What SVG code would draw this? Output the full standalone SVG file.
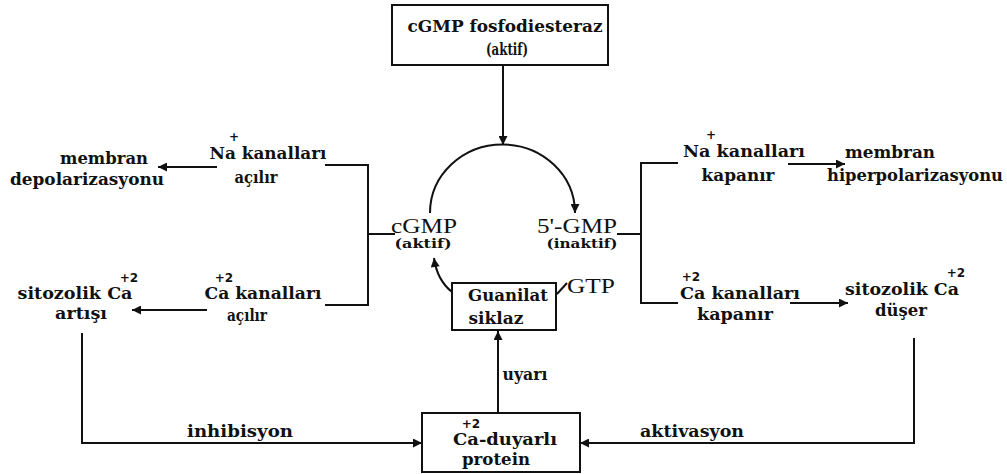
<svg xmlns="http://www.w3.org/2000/svg" width="1007" height="474" viewBox="0 0 1007 474">
<style>
.t{font-family:"DejaVu Serif","Liberation Serif",serif;font-weight:bold;font-size:16.5px;fill:#111}
.sup{font-family:"DejaVu Sans","Liberation Sans",sans-serif;font-weight:bold;font-size:12px;fill:#111}
.big{font-family:"Liberation Serif","Times New Roman",serif;font-size:21px;fill:#111}
.sm{font-family:"DejaVu Serif","Liberation Serif",serif;font-weight:bold;font-size:13px;fill:#111}
.box{fill:#fff;stroke:#111;stroke-width:2}
.ln{fill:none;stroke:#111;stroke-width:2}
</style>
<defs>
<marker id="ah" viewBox="0 0 10 10" refX="10" refY="5" markerWidth="11" markerHeight="9" markerUnits="userSpaceOnUse" orient="auto">
<path d="M0,0 L10,5 L0,10 z" fill="#111"/>
</marker>
</defs>
<rect width="1007" height="474" fill="#fff"/>
<g id="connectors">
<path class="ln" d="M503,65 V145" marker-end="url(#ah)"/>
<path class="ln" d="M430,213 A72,68 0 0 1 575,213" marker-end="url(#ah)"/>
<path class="ln" d="M452,292 Q437,280 434,258" marker-end="url(#ah)"/>
<path class="ln" d="M498,413 V331" marker-end="url(#ah)"/>
<path class="ln" d="M557,294 L567,283"/>
<path class="ln" d="M325,165 H368 V305 H325 M368,234 H395"/>
<path class="ln" d="M217,167 H158" marker-end="url(#ah)"/>
<path class="ln" d="M207,310 H132" marker-end="url(#ah)"/>
<path class="ln" d="M678,163 H641 V303 H678 M617,234 H641"/>
<path class="ln" d="M788,164 H845" marker-end="url(#ah)"/>
<path class="ln" d="M790,303 H848" marker-end="url(#ah)"/>
<path class="ln" d="M82,333 V443 H422" marker-end="url(#ah)"/>
<path class="ln" d="M914,338 V443 H580" marker-end="url(#ah)"/>
</g>
<g id="pde">
<rect class="box" x="392" y="5" width="216" height="60"/>
<text class="t" x="505" y="32" text-anchor="middle" textLength="195" lengthAdjust="spacingAndGlyphs">cGMP fosfodiesteraz</text>
<text class="t" x="507" y="55" text-anchor="middle" textLength="42" lengthAdjust="spacingAndGlyphs">(aktif)</text>
</g>
<g id="cgmp">
<text class="big" x="424" y="233" text-anchor="middle" textLength="66" lengthAdjust="spacingAndGlyphs">cGMP</text>
<text class="sm" x="423" y="248" text-anchor="middle" textLength="57" lengthAdjust="spacingAndGlyphs">(aktif)</text>
</g>
<g id="gmp5">
<text class="big" x="577" y="233" text-anchor="middle" textLength="80" lengthAdjust="spacingAndGlyphs">5'-GMP</text>
<text class="sm" x="582" y="248" text-anchor="middle" textLength="71" lengthAdjust="spacingAndGlyphs">(inaktif)</text>
</g>
<g id="guanilat">
<rect class="box" x="452" y="283" width="104" height="47"/>
<text class="t" x="508" y="301" text-anchor="middle" textLength="80" lengthAdjust="spacingAndGlyphs">Guanilat</text>
<text class="t" x="496" y="324" text-anchor="middle" textLength="55" lengthAdjust="spacingAndGlyphs">siklaz</text>
</g>
<g id="gtp">
<text class="big" x="591" y="293" text-anchor="middle" textLength="48" lengthAdjust="spacingAndGlyphs">GTP</text>
</g>
<g id="uyari">
<text class="t" x="525" y="380" text-anchor="middle" textLength="45" lengthAdjust="spacingAndGlyphs">uyarı</text>
</g>
<g id="protein">
<rect class="box" x="422" y="413" width="158" height="59"/>
<text class="t" x="505" y="445" text-anchor="middle" textLength="104" lengthAdjust="spacingAndGlyphs">Ca-duyarlı</text>
<text class="sup" x="471" y="428" text-anchor="middle">+2</text>
<text class="t" x="496" y="465" text-anchor="middle" textLength="68" lengthAdjust="spacingAndGlyphs">protein</text>
</g>
<g id="na-acilir">
<text class="t" x="268" y="159" text-anchor="middle" textLength="117" lengthAdjust="spacingAndGlyphs">Na kanalları</text>
<text class="sup" x="234" y="141" text-anchor="middle">+</text>
<text class="t" x="256" y="183" text-anchor="middle" textLength="43" lengthAdjust="spacingAndGlyphs">açılır</text>
</g>
<g id="depolarizasyon">
<text class="t" x="104" y="164" text-anchor="middle" textLength="88" lengthAdjust="spacingAndGlyphs">membran</text>
<text class="t" x="87" y="185" text-anchor="middle" textLength="154" lengthAdjust="spacingAndGlyphs">depolarizasyonu</text>
</g>
<g id="ca-acilir">
<text class="t" x="263" y="299" text-anchor="middle" textLength="117" lengthAdjust="spacingAndGlyphs">Ca kanalları</text>
<text class="sup" x="224" y="282" text-anchor="middle">+2</text>
<text class="t" x="247" y="321" text-anchor="middle" textLength="40" lengthAdjust="spacingAndGlyphs">açılır</text>
</g>
<g id="ca-artisi">
<text class="t" x="75" y="299" text-anchor="middle" textLength="115" lengthAdjust="spacingAndGlyphs">sitozolik Ca</text>
<text class="sup" x="129" y="282" text-anchor="middle">+2</text>
<text class="t" x="81" y="319" text-anchor="middle" textLength="52" lengthAdjust="spacingAndGlyphs">artışı</text>
</g>
<g id="na-kapanir">
<text class="t" x="744" y="157" text-anchor="middle" textLength="122" lengthAdjust="spacingAndGlyphs">Na kanalları</text>
<text class="sup" x="711" y="139" text-anchor="middle">+</text>
<text class="t" x="738" y="181" text-anchor="middle" textLength="73" lengthAdjust="spacingAndGlyphs">kapanır</text>
</g>
<g id="hiperpolarizasyon">
<text class="t" x="890" y="158" text-anchor="middle" textLength="90" lengthAdjust="spacingAndGlyphs">membran</text>
<text class="t" x="915" y="181" text-anchor="middle" textLength="176" lengthAdjust="spacingAndGlyphs">hiperpolarizasyonu</text>
</g>
<g id="ca-kapanir">
<text class="t" x="740" y="299" text-anchor="middle" textLength="120" lengthAdjust="spacingAndGlyphs">Ca kanalları</text>
<text class="sup" x="691" y="281" text-anchor="middle">+2</text>
<text class="t" x="735" y="320" text-anchor="middle" textLength="76" lengthAdjust="spacingAndGlyphs">kapanır</text>
</g>
<g id="ca-duser">
<text class="t" x="902" y="295" text-anchor="middle" textLength="114" lengthAdjust="spacingAndGlyphs">sitozolik Ca</text>
<text class="sup" x="956" y="277" text-anchor="middle">+2</text>
<text class="t" x="901" y="316" text-anchor="middle" textLength="52" lengthAdjust="spacingAndGlyphs">düşer</text>
</g>
<g id="labels">
<text class="t" x="240" y="437" text-anchor="middle" textLength="106" lengthAdjust="spacingAndGlyphs">inhibisyon</text>
<text class="t" x="692" y="437" text-anchor="middle" textLength="104" lengthAdjust="spacingAndGlyphs">aktivasyon</text>
</g>
</svg>
